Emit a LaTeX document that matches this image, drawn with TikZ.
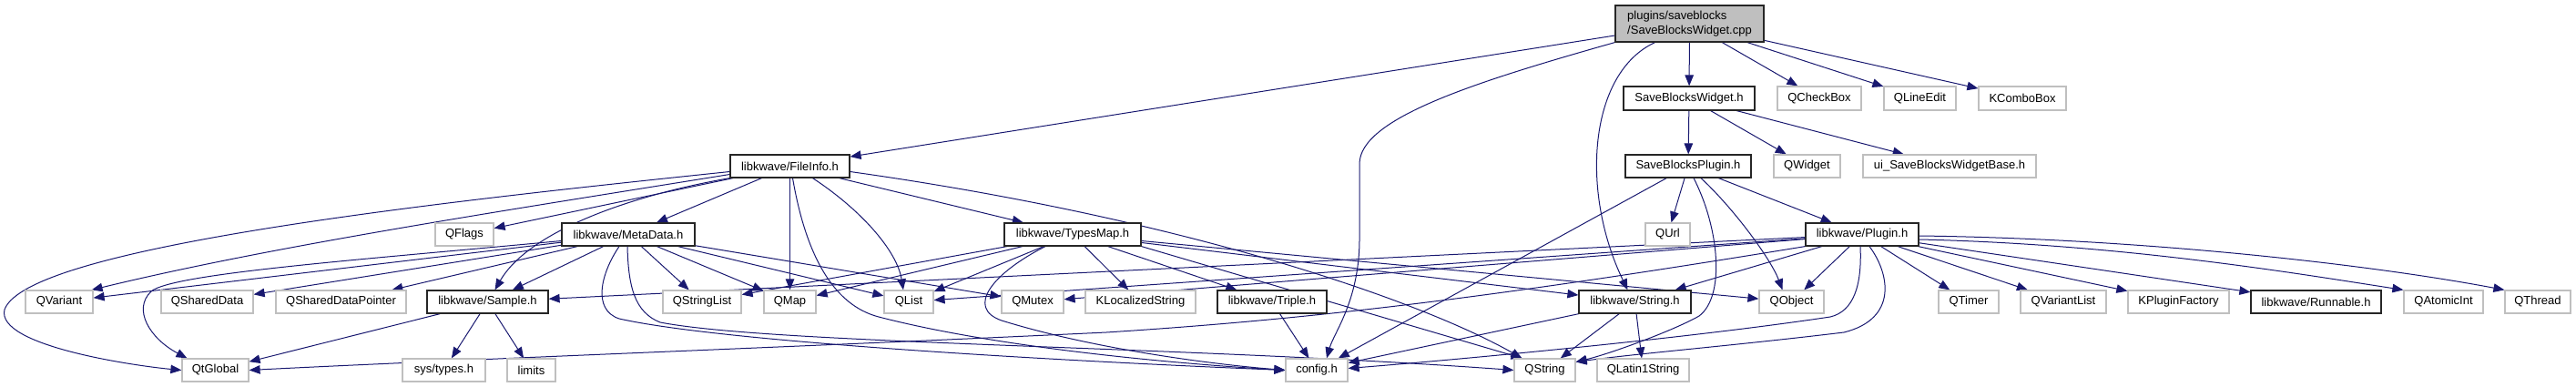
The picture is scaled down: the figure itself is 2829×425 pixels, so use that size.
\documentclass[tikz,border=0pt]{standalone}
\usepackage{fontspec}
\setmainfont{Liberation Sans}
\usetikzlibrary{arrows.meta}
\pgfdeclarelayer{edgelayer}
\pgfsetlayers{edgelayer,main}
\definecolor{edgeblue}{RGB}{25,25,112}
\definecolor{extgray}{RGB}{191,191,191}
\definecolor{rootfill}{RGB}{191,191,191}
\tikzset{
  box/.style={rectangle, line width=1.2pt, fill=white, inner sep=0pt, minimum height=25pt,
    font=\fontsize{13pt}{16pt}\selectfont},
  doc/.style={box, draw=black!85},
  ext/.style={box, draw=extgray},
  e/.style={draw=edgeblue, line width=1pt, -{Triangle[length=12pt,width=9.5pt]}}
}
\begin{document}
\begin{tikzpicture}[x=1pt,y=-1pt]
\useasboundingbox (0,0) rectangle (2829,425);
% row 0
\node[doc, fill=rootfill, align=left, minimum width=163pt, minimum height=40pt] (root) at (1855.5,26) {plugins/saveblocks\\/SaveBlocksWidget.cpp};
% row 1
\node[doc, minimum width=144pt, minimum height=26pt] (sbw) at (1855,108) {SaveBlocksWidget.h};
\node[ext, minimum width=92pt, minimum height=26pt] (qcheckbox) at (1998,108) {QCheckBox};
\node[ext, minimum width=79pt, minimum height=26pt] (qlineedit) at (2108.5,108) {QLineEdit};
\node[ext, minimum width=96pt, minimum height=26pt] (kcombobox) at (2221,108) {KComboBox};
% row 2
\node[doc, minimum width=131pt] (fileinfo) at (867.5,182.5) {libkwave/FileInfo.h};
\node[doc, minimum width=138pt] (sbp) at (1854,182.5) {SaveBlocksPlugin.h};
\node[ext, minimum width=73pt] (qwidget) at (1984.5,182.5) {QWidget};
\node[ext, minimum width=190pt] (uibase) at (2141,182.5) {ui\_SaveBlocksWidgetBase.h};
% row 3
\node[ext, minimum width=64pt] (qflags) at (510,257.5) {QFlags};
\node[doc, minimum width=146pt] (metadata) at (690,257.5) {libkwave/MetaData.h};
\node[doc, minimum width=150pt] (typesmap) at (1178,257.5) {libkwave/TypesMap.h};
\node[ext, minimum width=49pt] (qurl) at (1831.5,257.5) {QUrl};
\node[doc, minimum width=124pt] (plugin) at (2045,257.5) {libkwave/Plugin.h};
% row 4
\node[ext, minimum width=74pt] (qvariant) at (65,331.5) {QVariant};
\node[ext, minimum width=101pt] (qshareddata) at (227.5,331.5) {QSharedData};
\node[ext, minimum width=143pt] (qsdp) at (374.5,331.5) {QSharedDataPointer};
\node[doc, minimum width=133pt] (sample) at (535.5,331.5) {libkwave/Sample.h};
\node[ext, minimum width=86pt] (qstringlist) at (771,331.5) {QStringList};
\node[ext, minimum width=57pt] (qmap) at (867.5,331.5) {QMap};
\node[ext, minimum width=54pt] (qlist) at (998,331.5) {QList};
\node[ext, minimum width=68pt] (qmutex) at (1134,331.5) {QMutex};
\node[ext, minimum width=121pt] (klocalized) at (1252.5,331.5) {KLocalizedString};
\node[doc, minimum width=120pt] (triple) at (1397,331.5) {libkwave/Triple.h};
\node[doc, minimum width=123pt] (stringh) at (1795.5,331.5) {libkwave/String.h};
\node[ext, minimum width=71pt] (qobject) at (1967.5,331.5) {QObject};
\node[ext, minimum width=66pt] (qtimer) at (2162,331.5) {QTimer};
\node[ext, minimum width=94pt] (qvariantlist) at (2266,331.5) {QVariantList};
\node[ext, minimum width=111pt] (kpluginfactory) at (2392.5,331.5) {KPluginFactory};
\node[doc, minimum width=143pt] (runnable) at (2543.5,331.5) {libkwave/Runnable.h};
\node[ext, minimum width=87pt] (qatomicint) at (2683.5,331.5) {QAtomicInt};
\node[ext, minimum width=72pt] (qthread) at (2787,331.5) {QThread};
% row 5
\node[ext, minimum width=73pt] (qtglobal) at (236.5,406.5) {QtGlobal};
\node[ext, minimum width=91pt] (systypes) at (487.5,406.5) {sys/types.h};
\node[ext, minimum width=53pt] (limits) at (583.5,406.5) {limits};
\node[ext, minimum width=68pt] (configh) at (1446,406.5) {config.h};
\node[ext, minimum width=67pt] (qstring) at (1696.5,406.5) {QString};
\node[ext, minimum width=101pt] (qlatin1) at (1804.5,406.5) {QLatin1String};

\begin{pgfonlayer}{edgelayer}
% root
\draw[e] (root) -- (fileinfo);
\draw[e] (root.south west) .. controls (1620,90) and (1493,130) .. (1493,180) -- (1493,262) .. controls (1493,330) and (1465,365) .. ([xshift=11pt]configh.north);
\draw[e] ([xshift=-38pt]root.south) .. controls (1745,80) and (1735,210) .. ([xshift=-8pt]stringh.north);
\draw[e] (root) -- (sbw);
\draw[e] (root) -- (qcheckbox);
\draw[e] (root) -- (qlineedit);
\draw[e] (root) -- (kcombobox);
% SaveBlocksWidget.h
\draw[e] (sbw) -- (sbp);
\draw[e] (sbw) -- (qwidget);
\draw[e] (sbw) -- (uibase);
% SaveBlocksPlugin.h
\draw[e] (sbp) -- (configh);
\draw[e] (sbp) -- (qurl);
\draw[e] ([xshift=6pt]sbp.south) .. controls (1888,250) and (1895,325) .. (1866,347) .. controls (1840,362) and (1770,388) .. ([yshift=9pt]qstring.east);
\draw[e] ([xshift=14pt]sbp.south) .. controls (1905,230) and (1945,285) .. ([xshift=-10pt]qobject.north);
\draw[e] (sbp) -- (plugin);
% FileInfo.h
\draw[e] ([yshift=-6pt]fileinfo.west) .. controls (500,220) and (30,270) .. (5,340) .. controls (-5,380) and (150,402) .. (qtglobal.west);
\draw[e] ([yshift=-9pt]fileinfo.west) .. controls (550,232) and (300,270) .. ([xshift=-2pt]qvariant.north east);
\draw[e] (fileinfo) -- (qflags);
\draw[e] (fileinfo.south west) .. controls (690,215) and (580,255) .. ([xshift=8pt]sample.north);
\draw[e] (fileinfo) -- (metadata);
\draw[e] (fileinfo) -- (qmap);
\draw[e] ([xshift=3pt]fileinfo.south) .. controls (885,280) and (915,335) .. (965,348) .. controls (1100,383) and (1300,400) .. (configh.west);
\draw[e] ([xshift=25pt]fileinfo.south) .. controls (945,230) and (985,275) .. ([xshift=-6pt]qlist.north);
\draw[e] (fileinfo) -- (typesmap);
\draw[e] ([yshift=-6pt]fileinfo.east) .. controls (1300,240) and (1560,330) .. ([xshift=-25pt]qstring.north);
% MetaData.h
\draw[e] ([yshift=-7pt]metadata.west) .. controls (400,285) and (190,300) .. (166,320) .. controls (145,340) and (165,372) .. ([xshift=-31pt]qtglobal.north);
\draw[e] (metadata) -- (qvariant);
\draw[e] (metadata) -- (qshareddata);
\draw[e] (metadata) -- (qsdp);
\draw[e] (metadata) -- (sample);
\draw[e] ([xshift=-10pt]metadata.south) .. controls (660,300) and (650,340) .. (680,350) .. controls (800,377) and (1200,398) .. (configh.west);
\draw[e] ([xshift=-1pt]metadata.south) .. controls (690,315) and (697,343) .. (725,354) .. controls (850,378) and (1300,380) .. (qstring.west);
\draw[e] (metadata) -- (qstringlist);
\draw[e] (metadata) -- (qmap);
\draw[e] (metadata) -- (qlist);
\draw[e] (metadata) -- (qmutex);
% TypesMap.h
\draw[e] (typesmap) -- (qstringlist);
\draw[e] (typesmap) -- (qmap);
\draw[e] (typesmap) -- (qlist);
\draw[e] ([xshift=-30pt]typesmap.south) .. controls (1090,300) and (1060,338) .. (1100,352) .. controls (1200,383) and (1330,400) .. (configh.west);
\draw[e] (typesmap) -- (klocalized);
\draw[e] (typesmap) -- (triple);
\draw[e] (typesmap) -- (qobject);
\draw[e] (typesmap) -- (stringh);
\draw[e] (typesmap.south east) -- ([xshift=-25pt]qstring.north);
% Plugin.h
\draw[e] (plugin) -- (sample);
\draw[e] (plugin) -- (qlist);
\draw[e] (plugin) -- (qmutex);
\draw[e] (plugin.south west) .. controls (1650,325) and (1450,350) .. (1215,365) .. controls (900,380) and (500,395) .. (qtglobal.east);
\draw[e] (plugin) -- (stringh);
\draw[e] (plugin) -- (qobject);
\draw[e] ([xshift=-2pt]plugin.south) .. controls (2045,315) and (2035,342) .. (2010,348) .. controls (1850,372) and (1600,395) .. ([yshift=2pt]configh.east);
\draw[e] ([xshift=8pt]plugin.south) .. controls (2075,300) and (2085,350) .. (2025,365) .. controls (1900,380) and (1800,388) .. ([yshift=9pt]qstring.east);
\draw[e] (plugin) -- (qtimer);
\draw[e] (plugin) -- (qvariantlist);
\draw[e] (plugin) -- (kpluginfactory);
\draw[e] (plugin) -- (runnable);
\draw[e] ([yshift=-5.5pt]plugin.east) .. controls (2330,268) and (2520,300) .. (qatomicint.north west);
\draw[e] ([yshift=-1.5pt]plugin.east) .. controls (2350,262) and (2600,290) .. (qthread.north west);
% Sample.h
\draw[e] (sample) -- (qtglobal);
\draw[e] (sample) -- (systypes);
\draw[e] (sample) -- (limits);
% Triple.h
\draw[e] (triple) -- (configh);
% String.h
\draw[e] (stringh) -- ([yshift=8pt]configh.east);
\draw[e] (stringh) -- (qstring);
\draw[e] (stringh) -- (qlatin1);
\end{pgfonlayer}
\end{tikzpicture}
\end{document}
